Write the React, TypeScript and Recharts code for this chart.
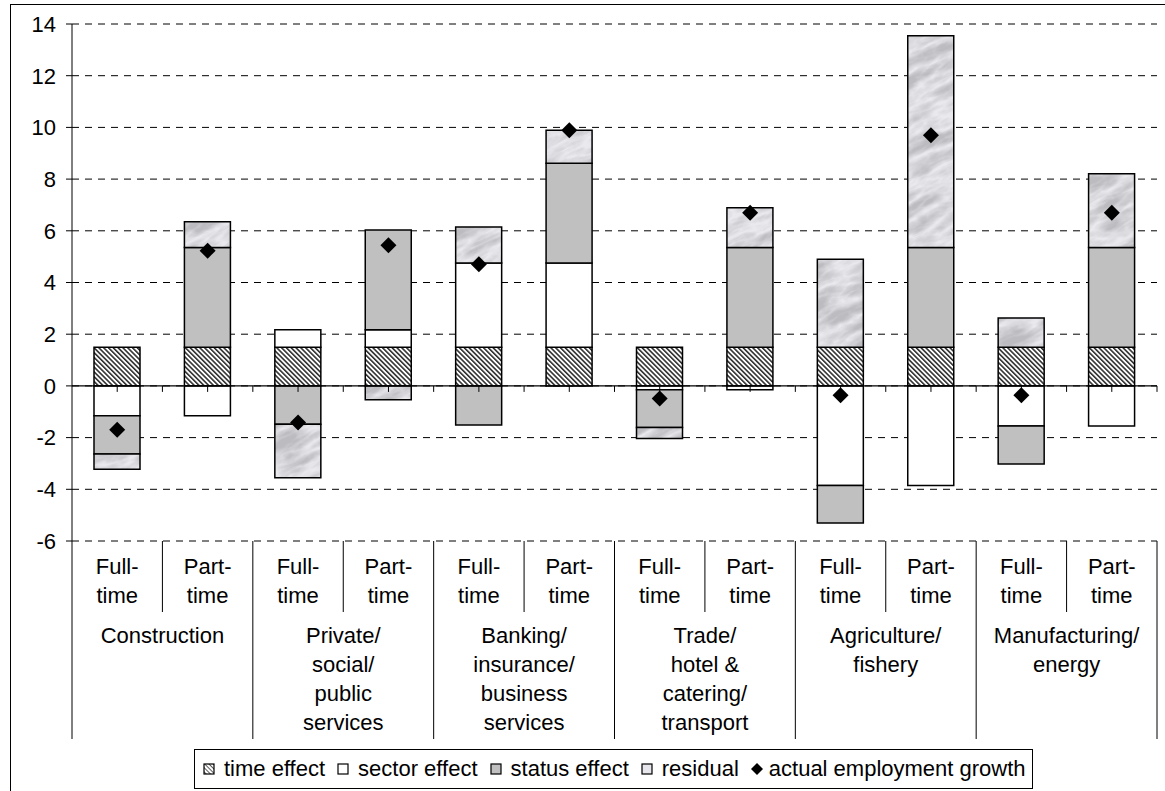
import React from "react";
import {
  ComposedChart,
  Bar,
  Line,
  XAxis,
  YAxis,
  CartesianGrid,
  ReferenceLine,
} from "recharts";

// sector groups (multi-line labels) and the two status columns per group
const groupNames: string[][] = [
  ["Construction"],
  ["Private/", "social/", "public", "services"],
  ["Banking/", "insurance/", "business", "services"],
  ["Trade/", "hotel &", "catering/", "transport"],
  ["Agriculture/", "fishery"],
  ["Manufacturing/", "energy"],
];
const statusLabels: string[][] = [
  ["Full-", "time"],
  ["Part-", "time"],
];

// one value per column: FT, PT for each group in order
const timeEffect = [1.5, 1.5, 1.5, 1.5, 1.5, 1.5, 1.5, 1.5, 1.5, 1.5, 1.5, 1.5];
const sectorEffect = [-1.15, -1.15, 0.67, 0.67, 3.25, 3.25, -0.15, -0.15, -3.85, -3.85, -1.55, -1.55];
const statusEffect = [-1.48, 3.85, -1.48, 3.86, -1.51, 3.86, -1.46, 3.85, -1.45, 3.85, -1.47, 3.85];
const residual = [-0.59, 1.0, -2.07, -0.54, 1.4, 1.28, -0.42, 1.54, 3.4, 8.2, 1.13, 2.86];
const actualGrowth = [-1.7, 5.23, -1.42, 5.44, 4.71, 9.89, -0.49, 6.7, -0.36, 9.7, -0.36, 6.7];

const yTicks = [-6, -4, -2, 0, 2, 4, 6, 8, 10, 12, 14];

const data = groupNames.flatMap((g, gi) =>
  statusLabels.map((s, si) => {
    const i = gi * 2 + si;
    return {
      key: `${gi}-${si}`,
      time: timeEffect[i],
      sector: sectorEffect[i],
      status: statusEffect[i],
      residual: residual[i],
      actual: actualGrowth[i],
    };
  })
);

// layout
const W = 1165;
const H = 791;
const MARGIN = { top: 24, right: 8, bottom: 52, left: 12 };
const Y_AXIS_W = 60;
const X_AXIS_H = 198;
const PLOT_LEFT = MARGIN.left + Y_AXIS_W;
const PLOT_TOP = MARGIN.top;
const PLOT_W = W - MARGIN.right - PLOT_LEFT;
const PLOT_BOTTOM = H - MARGIN.bottom - X_AXIS_H;
const PLOT_H = PLOT_BOTTOM - PLOT_TOP;
const Y_MIN = -6;
const Y_MAX = 14;
const ZERO_Y = PLOT_TOP + ((Y_MAX - 0) / (Y_MAX - Y_MIN)) * PLOT_H;
const SUB_BOTTOM = PLOT_BOTTOM + 71;
const TABLE_BOTTOM = PLOT_BOTTOM + 198;
const FONT = "'Liberation Sans', Arial, sans-serif";
const FS = 22;

const CategoryTick = (props: any) => {
  const { x, index } = props;
  const band = PLOT_W / data.length;
  const gi = Math.floor(index / 2);
  const si = index % 2;
  const els: React.ReactNode[] = [];

  // small ticks on the zero line
  els.push(<line key="t1" x1={x} x2={x} y1={ZERO_Y} y2={ZERO_Y + 6} stroke="#000" />);
  els.push(
    <line key="t2" x1={x + band / 2} x2={x + band / 2} y1={ZERO_Y} y2={ZERO_Y + 6} stroke="#000" />
  );

  statusLabels[si].forEach((t, li) => {
    els.push(
      <text key={`s${li}`} x={x} y={PLOT_BOTTOM + 33 + li * 28.5} textAnchor="middle" fontSize={FS} fill="#000">
        {t}
      </text>
    );
  });

  if (si === 0) {
    els.push(
      <line key="sub" x1={x + band / 2} x2={x + band / 2} y1={PLOT_BOTTOM} y2={SUB_BOTTOM} stroke="#000" />
    );
    els.push(
      <line key="grp" x1={x - band / 2} x2={x - band / 2} y1={PLOT_BOTTOM} y2={TABLE_BOTTOM} stroke="#000" />
    );
    groupNames[gi].forEach((t, li) => {
      els.push(
        <text key={`g${li}`} x={x + band / 2} y={PLOT_BOTTOM + 101.5 + li * 29} textAnchor="middle" fontSize={FS} fill="#000">
          {t}
        </text>
      );
    });
  }
  if (index === data.length - 1) {
    els.push(
      <line key="end" x1={x + band / 2} x2={x + band / 2} y1={PLOT_BOTTOM} y2={TABLE_BOTTOM} stroke="#000" />
    );
  }
  return <g>{els}</g>;
};

const renderDiamond = (p: any) => {
  const { cx, cy, index } = p;
  if (cx == null || cy == null) return <g key={index} />;
  const r = 8;
  return (
    <path
      key={index}
      d={`M${cx},${cy - r} L${cx + r},${cy} L${cx},${cy + r} L${cx - r},${cy} Z`}
      fill="#000"
    />
  );
};

const legendItems = [
  { name: "time effect", kind: "hatch" },
  { name: "sector effect", kind: "#ffffff" },
  { name: "status effect", kind: "#c0c0c0" },
  { name: "residual", kind: "#e6e6ec" },
  { name: "actual employment growth", kind: "diamond" },
];

const LegendIcon = ({ kind }: { kind: string }) => {
  if (kind === "diamond") {
    return (
      <svg width={12} height={12} style={{ marginRight: 6 }}>
        <path d="M6,0 L12,6 L6,12 L0,6 Z" fill="#000" />
      </svg>
    );
  }
  return (
    <svg width={12} height={12} style={{ marginRight: 9 }}>
      <defs>
        <pattern id="legHatch" patternUnits="userSpaceOnUse" width={3} height={3} patternTransform="rotate(-45)">
          <line x1={0} y1={0} x2={0} y2={3} stroke="#000" strokeWidth={1.3} />
        </pattern>
      </defs>
      <rect
        x={1}
        y={1}
        width={10}
        height={10}
        fill={kind === "hatch" ? "url(#legHatch)" : kind}
        stroke="#000"
        strokeWidth={1.2}
      />
    </svg>
  );
};

export default function App() {
  return (
    <div style={{ position: "absolute", left: 0, top: 0, width: W, height: H, fontFamily: FONT, overflow: "hidden" }}>
      <div
        style={{
          position: "absolute",
          left: 10,
          top: 4,
          width: W,
          height: H,
          border: "1px solid #000",
          boxSizing: "border-box",
        }}
      />
      <div style={{ position: "absolute", left: 0, top: 0 }}>
        <ComposedChart width={W} height={H} data={data} margin={MARGIN} stackOffset="sign" barGap={0}>
          <defs>
            <pattern id="hatch" patternUnits="userSpaceOnUse" width={3.4} height={3.4} patternTransform="rotate(-45)">
              <rect width={3.4} height={3.4} fill="#fff" />
              <line x1={0.8} y1={0} x2={0.8} y2={3.4} stroke="#000" strokeWidth={1.3} />
            </pattern>
            {/* marble-like texture for the residual series */}
            <filter id="marbleNoise" x="0" y="0" width="1" height="1">
              <feTurbulence type="turbulence" baseFrequency="0.02 0.06" numOctaves={4} seed={5} />
              <feColorMatrix
                type="matrix"
                values="0 0 0 0 0.5  0 0 0 0 0.5  0 0 0 0 0.53  1.9 0 0 0 -0.18"
              />
            </filter>
            <pattern id="marble" patternUnits="userSpaceOnUse" width={1200} height={700} patternTransform="rotate(-25)">
              <rect width={1200} height={700} fill="#eaeaee" />
              <rect width={1200} height={700} filter="url(#marbleNoise)" />
            </pattern>
          </defs>
          <CartesianGrid vertical={false} stroke="#000" strokeDasharray="7 6" />
          <YAxis
            type="number"
            domain={[Y_MIN, Y_MAX]}
            ticks={yTicks}
            interval={0}
            width={Y_AXIS_W}
            allowDataOverflow
            axisLine={{ stroke: "#000" }}
            tickLine={{ stroke: "#000" }}
            tickSize={6}
            tickMargin={10}
            tick={{ fill: "#000", fontSize: FS, fontFamily: FONT }}
          />
          <Bar dataKey="time" stackId="a" barSize={46} fill="url(#hatch)" stroke="#000" strokeWidth={1.5} isAnimationActive={false} />
          <Bar dataKey="sector" stackId="a" barSize={46} fill="#ffffff" stroke="#000" strokeWidth={1.5} isAnimationActive={false} />
          <Bar dataKey="status" stackId="a" barSize={46} fill="#c0c0c0" stroke="#000" strokeWidth={1.5} isAnimationActive={false} />
          <Bar dataKey="residual" stackId="a" barSize={46} fill="url(#marble)" stroke="#000" strokeWidth={1.5} isAnimationActive={false} />
          <ReferenceLine y={0} stroke="#000" strokeWidth={1.2} />
          <Line
            dataKey="actual"
            stroke="none"
            dot={renderDiamond}
            activeDot={false}
            isAnimationActive={false}
          />
          <XAxis
            dataKey="key"
            height={X_AXIS_H}
            interval={0}
            axisLine={false}
            tickLine={false}
            tick={<CategoryTick />}
          />
        </ComposedChart>
      </div>
      <div
        style={{
          position: "absolute",
          left: 194,
          top: 749,
          width: 839,
          height: 40,
          border: "1px solid #000",
          boxSizing: "border-box",
          background: "#fff",
          display: "flex",
          alignItems: "center",
          paddingLeft: 8,
          fontSize: FS,
          color: "#000",
          whiteSpace: "nowrap",
        }}
      >
        {legendItems.map((it) => (
          <div key={it.name} style={{ display: "flex", alignItems: "center", marginRight: 12 }}>
            <LegendIcon kind={it.kind} />
            <span>{it.name}</span>
          </div>
        ))}
      </div>
    </div>
  );
}
